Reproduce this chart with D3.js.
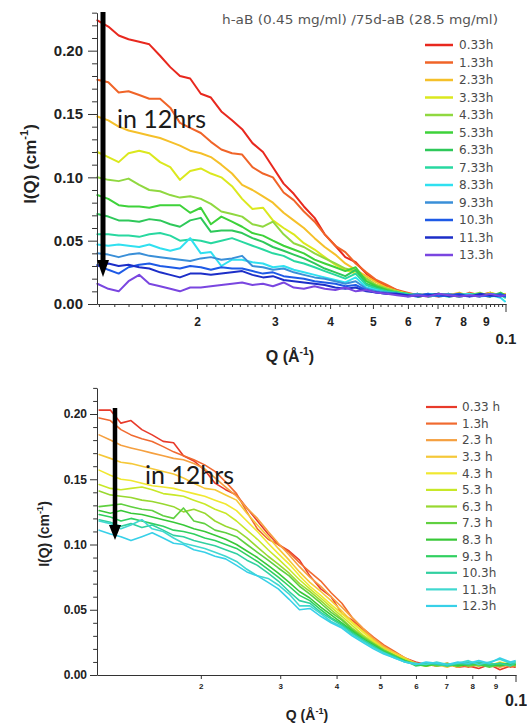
<!DOCTYPE html>
<html><head><meta charset="utf-8">
<script src="https://cdn.jsdelivr.net/npm/d3@7"></script>
<style>body{margin:0;background:#fff} svg{display:block}</style>
</head><body><svg id="c" width="527" height="723"></svg>
<script>
// ---------- DATA ----------
const Q = [0.0119,0.0126,0.0133,0.0140,0.0148,0.0156,0.0165,0.0174,0.0183,0.0193,0.0204,0.0215,0.0227,0.0240,0.0253,0.0267,0.0282,0.0297,0.0314,0.0331,0.0349,0.0369,0.0389,0.0411,0.0433,0.0457,0.0483,0.0509,0.0538,0.0567,0.0599,0.0632,0.0667,0.0704,0.0743,0.0784,0.0827,0.0873,0.0921,0.0972,0.0995];

const topTitle = "h-aB (0.45 mg/ml) /75d-aB (28.5 mg/ml)";
const topLabels = ["0.33h","1.33h","2.33h","3.33h","4.33h","5.33h","6.33h","7.33h","8.33h","9.33h","10.3h","11.3h","13.3h"];
const topColors = ["#e8281e","#f06428","#f5c02a","#dbe81e","#90d840","#3ed23a","#2ec85a","#28d8a0","#30e0f0","#3a8fd8","#1e5ae6","#1c2ec8","#7a46e0"];

const top033 = [0.224,0.219,0.212,0.209,0.207,0.205,0.196,0.187,0.180,0.178,0.166,0.163,0.152,0.145,0.138,0.127,0.120,0.108,0.095,0.087,0.077,0.068,0.055,0.046,0.037,0.033,0.024,0.018,0.014,0.011,0.008,0.006,0.007,0.006,0.008,0.006,0.008,0.007,0.009,0.006,0.007];
const top133 = [0.177,0.175,0.167,0.168,0.165,0.162,0.162,0.155,0.143,0.139,0.135,0.128,0.122,0.119,0.118,0.108,0.103,0.100,0.088,0.082,0.073,0.065,0.055,0.046,0.041,0.032,0.025,0.019,0.015,0.011,0.009,0.007,0.006,0.008,0.007,0.006,0.009,0.007,0.006,0.008,0.007];
const top233 = [0.148,0.145,0.140,0.137,0.135,0.133,0.131,0.128,0.125,0.121,0.119,0.116,0.110,0.103,0.094,0.090,0.085,0.080,0.072,0.066,0.060,0.052,0.045,0.039,0.032,0.027,0.022,0.017,0.013,0.010,0.008,0.007,0.008,0.006,0.007,0.009,0.006,0.008,0.007,0.006,0.008];
const top333 = [0.120,0.116,0.112,0.119,0.121,0.119,0.112,0.108,0.098,0.105,0.107,0.103,0.100,0.093,0.083,0.075,0.076,0.066,0.060,0.055,0.048,0.043,0.037,0.031,0.027,0.024,0.020,0.015,0.012,0.010,0.008,0.006,0.007,0.008,0.006,0.007,0.008,0.006,0.009,0.007,0.006];
const top433 = [0.100,0.098,0.097,0.099,0.094,0.090,0.089,0.086,0.084,0.085,0.083,0.079,0.073,0.071,0.069,0.063,0.061,0.065,0.055,0.048,0.045,0.040,0.036,0.032,0.028,0.026,0.020,0.015,0.012,0.010,0.007,0.008,0.006,0.007,0.008,0.006,0.007,0.009,0.006,0.008,0.007];
const top533 = [0.086,0.083,0.078,0.077,0.077,0.076,0.078,0.078,0.078,0.072,0.076,0.063,0.069,0.065,0.061,0.056,0.054,0.050,0.046,0.043,0.040,0.035,0.032,0.029,0.026,0.029,0.018,0.014,0.011,0.009,0.008,0.006,0.007,0.008,0.007,0.006,0.008,0.007,0.006,0.009,0.007];
const top633 = [0.071,0.069,0.066,0.066,0.065,0.067,0.066,0.063,0.061,0.066,0.068,0.057,0.058,0.058,0.056,0.052,0.049,0.045,0.042,0.039,0.036,0.032,0.028,0.025,0.022,0.027,0.016,0.013,0.010,0.009,0.007,0.008,0.006,0.007,0.006,0.008,0.007,0.006,0.008,0.007,0.006];
const top733 = [0.055,0.055,0.054,0.054,0.053,0.055,0.056,0.054,0.050,0.051,0.050,0.048,0.050,0.052,0.049,0.046,0.043,0.040,0.038,0.034,0.032,0.029,0.026,0.023,0.020,0.024,0.015,0.012,0.010,0.009,0.008,0.006,0.007,0.008,0.007,0.006,0.007,0.008,0.006,0.007,0.005];
const top833 = [0.047,0.046,0.047,0.046,0.045,0.047,0.044,0.042,0.044,0.052,0.040,0.041,0.030,0.035,0.035,0.033,0.032,0.029,0.030,0.027,0.025,0.023,0.021,0.019,0.017,0.021,0.013,0.011,0.009,0.008,0.007,0.006,0.008,0.007,0.006,0.007,0.008,0.006,0.007,0.005,0.002];
const top933 = [0.040,0.039,0.037,0.039,0.040,0.038,0.037,0.036,0.035,0.034,0.036,0.037,0.035,0.036,0.038,0.030,0.029,0.027,0.028,0.025,0.023,0.021,0.020,0.018,0.016,0.018,0.012,0.010,0.009,0.008,0.007,0.008,0.006,0.007,0.008,0.006,0.007,0.006,0.008,0.007,0.006];
const top103 = [0.031,0.027,0.024,0.029,0.031,0.032,0.030,0.029,0.028,0.030,0.029,0.027,0.029,0.028,0.028,0.026,0.024,0.025,0.022,0.021,0.020,0.018,0.017,0.016,0.014,0.015,0.011,0.009,0.008,0.008,0.006,0.007,0.008,0.006,0.007,0.008,0.006,0.007,0.006,0.008,0.006];
const top113 = [0.030,0.032,0.030,0.031,0.029,0.028,0.025,0.023,0.021,0.024,0.024,0.023,0.024,0.025,0.026,0.023,0.021,0.022,0.019,0.018,0.017,0.016,0.015,0.013,0.012,0.013,0.010,0.009,0.008,0.008,0.007,0.006,0.007,0.008,0.006,0.007,0.006,0.008,0.007,0.006,0.007];
const top133b = [0.016,0.012,0.010,0.018,0.023,0.016,0.014,0.012,0.010,0.013,0.013,0.014,0.015,0.016,0.017,0.015,0.016,0.014,0.017,0.013,0.012,0.014,0.012,0.011,0.013,0.010,0.011,0.009,0.008,0.007,0.006,0.007,0.006,0.008,0.007,0.006,0.007,0.006,0.008,0.006,0.007];

const botLabels = ["0.33 h","1.3h","2.3 h","3.3 h","4.3 h","5.3 h","6.3 h","7.3 h","8.3 h","9.3 h","10.3h","11.3h","12.3h"];
const botColors = ["#e83a2a","#f06a30","#f5a040","#f5c838","#f0e830","#c8e828","#98d830","#60d040","#38c838","#30d060","#30d0a0","#40d8d0","#38d0e8"];

const bot033 = [0.203,0.203,0.193,0.195,0.188,0.184,0.179,0.178,0.168,0.164,0.157,0.147,0.142,0.138,0.128,0.118,0.108,0.100,0.095,0.088,0.076,0.066,0.060,0.047,0.042,0.035,0.027,0.021,0.017,0.013,0.010,0.008,0.007,0.009,0.006,0.007,0.005,0.008,0.004,0.007,0.006];
const bot13 = [0.197,0.195,0.188,0.184,0.181,0.179,0.175,0.171,0.168,0.165,0.161,0.156,0.148,0.139,0.125,0.112,0.104,0.100,0.094,0.086,0.079,0.072,0.063,0.055,0.044,0.036,0.029,0.023,0.018,0.013,0.009,0.008,0.009,0.007,0.008,0.006,0.008,0.007,0.009,0.006,0.007];
const bot23 = [0.184,0.180,0.176,0.174,0.172,0.170,0.168,0.166,0.165,0.162,0.158,0.151,0.144,0.137,0.128,0.120,0.110,0.101,0.092,0.083,0.075,0.068,0.060,0.052,0.044,0.036,0.028,0.022,0.017,0.013,0.008,0.009,0.007,0.008,0.006,0.009,0.007,0.008,0.006,0.008,0.007];
const bot33 = [0.169,0.166,0.163,0.162,0.160,0.158,0.156,0.154,0.151,0.147,0.143,0.142,0.138,0.134,0.124,0.115,0.106,0.097,0.088,0.079,0.071,0.064,0.057,0.049,0.041,0.034,0.027,0.021,0.017,0.013,0.009,0.007,0.008,0.006,0.009,0.007,0.008,0.009,0.007,0.010,0.008];
const bot43 = [0.157,0.153,0.150,0.149,0.147,0.145,0.144,0.143,0.141,0.139,0.137,0.134,0.131,0.126,0.118,0.110,0.101,0.093,0.085,0.076,0.068,0.061,0.054,0.047,0.040,0.033,0.026,0.020,0.016,0.012,0.008,0.009,0.007,0.008,0.007,0.008,0.009,0.007,0.010,0.008,0.009];
const bot53 = [0.146,0.143,0.142,0.143,0.144,0.142,0.139,0.138,0.137,0.134,0.131,0.127,0.124,0.118,0.111,0.104,0.096,0.089,0.081,0.073,0.066,0.059,0.052,0.045,0.038,0.031,0.025,0.020,0.015,0.012,0.008,0.007,0.009,0.008,0.007,0.009,0.008,0.007,0.009,0.008,0.009];
const bot63 = [0.141,0.138,0.137,0.136,0.134,0.133,0.131,0.129,0.125,0.127,0.124,0.118,0.114,0.111,0.105,0.098,0.091,0.085,0.078,0.070,0.064,0.057,0.050,0.043,0.036,0.030,0.024,0.019,0.015,0.011,0.009,0.007,0.008,0.009,0.007,0.008,0.007,0.009,0.008,0.007,0.008];
const bot73 = [0.129,0.130,0.131,0.129,0.127,0.126,0.122,0.120,0.128,0.118,0.116,0.111,0.109,0.106,0.100,0.094,0.088,0.082,0.076,0.068,0.062,0.055,0.048,0.042,0.035,0.029,0.024,0.019,0.015,0.011,0.008,0.009,0.007,0.008,0.009,0.007,0.008,0.006,0.008,0.009,0.007];
const bot83 = [0.126,0.124,0.126,0.124,0.123,0.121,0.119,0.117,0.115,0.112,0.110,0.107,0.104,0.100,0.095,0.090,0.084,0.078,0.071,0.064,0.059,0.052,0.046,0.040,0.034,0.028,0.023,0.018,0.014,0.011,0.008,0.007,0.009,0.008,0.007,0.008,0.009,0.008,0.007,0.009,0.008];
const bot93 = [0.123,0.121,0.118,0.120,0.118,0.116,0.114,0.111,0.110,0.108,0.105,0.103,0.100,0.097,0.092,0.087,0.081,0.075,0.068,0.061,0.057,0.050,0.044,0.039,0.033,0.027,0.022,0.018,0.014,0.011,0.007,0.008,0.009,0.007,0.008,0.010,0.008,0.007,0.009,0.008,0.010];
const bot103 = [0.119,0.117,0.114,0.116,0.113,0.115,0.111,0.107,0.106,0.103,0.101,0.099,0.096,0.093,0.088,0.084,0.078,0.072,0.064,0.057,0.055,0.048,0.043,0.038,0.032,0.027,0.022,0.017,0.014,0.010,0.008,0.009,0.008,0.007,0.009,0.008,0.010,0.008,0.009,0.007,0.009];
const bot113 = [0.118,0.116,0.112,0.115,0.119,0.112,0.110,0.105,0.101,0.099,0.097,0.094,0.091,0.087,0.081,0.076,0.074,0.069,0.062,0.053,0.053,0.047,0.041,0.037,0.031,0.026,0.021,0.017,0.013,0.010,0.009,0.008,0.010,0.008,0.009,0.011,0.008,0.010,0.012,0.009,0.010];
const bot123 = [0.111,0.108,0.106,0.103,0.106,0.109,0.105,0.101,0.100,0.096,0.094,0.091,0.089,0.084,0.079,0.076,0.071,0.066,0.058,0.050,0.051,0.045,0.040,0.036,0.030,0.025,0.020,0.016,0.013,0.010,0.008,0.010,0.009,0.008,0.010,0.009,0.011,0.009,0.013,0.010,0.011];

const yMajorTicks = [0, 0.05, 0.10, 0.15, 0.20];
const xMajorTicks = [0.02,0.03,0.04,0.05,0.06,0.07,0.08,0.09];
const arrowText = "in 12hrs";

const topSeries = [top033,top133,top233,top333,top433,top533,top633,top733,top833,top933,top103,top113,top133b];
const botSeries = [bot033,bot13,bot23,bot33,bot43,bot53,bot63,bot73,bot83,bot93,bot103,bot113,bot123];

// ---------- DRAW ----------
const svg = d3.select('#c');
const AX = '#333';
const BOLD = "'Liberation Sans', Arial, sans-serif";

function sup(textSel, parts, supSize){
  textSel.append('tspan').text(parts[0]);
  textSel.append('tspan').attr('dy', -supSize*0.7).attr('font-size', supSize).text(parts[1]);
  textSel.append('tspan').attr('dy', supSize*0.7).text(parts[2]);
}

function panel(o){
  const x = d3.scaleLog().domain(o.qDomain).range(o.xRange);
  const y = d3.scaleLinear().domain(o.yDomain).range(o.yRange);
  const g = svg.append('g');
  const line = d3.line().x((d,i)=>x(Q[i])).y(d=>y(d));
  o.series.forEach((s,k)=>{
    g.append('path').attr('d', line(s)).attr('fill','none')
      .attr('stroke', o.colors[k]).attr('stroke-width', o.lw)
      .attr('stroke-linejoin','round').attr('stroke-linecap','round');
  });
  // y axis
  const yMinor = d3.range(1, Math.round(o.yDomain[1]*100)+1).map(v=>v/100).filter(v=>Math.round(v*100)%5!==0);
  const ga = svg.append('g').attr('transform', `translate(${o.xRange[0]},0)`)
    .call(d3.axisLeft(y).tickValues(yMajorTicks).tickFormat(d3.format('.2f'))
      .tickSize(o.yTick).tickPadding(o.yPad).tickSizeOuter(0));
  ga.attr('font-family', BOLD).attr('font-size', o.yFont).attr('font-weight','bold');
  ga.selectAll('text').attr('fill','#222');
  ga.selectAll('line,path').attr('stroke', AX);
  const gm = svg.append('g').attr('transform', `translate(${o.xRange[0]},0)`)
    .call(d3.axisLeft(y).tickValues(yMinor).tickFormat('').tickSize(o.yTick*0.55).tickSizeOuter(0));
  gm.select('.domain').remove();
  gm.selectAll('line').attr('stroke', AX);
  // x axis
  const y0 = o.yRange[0];
  const gx = svg.append('g').attr('transform', `translate(0,${y0})`)
    .call(d3.axisBottom(x).tickValues(xMajorTicks).tickFormat(d=>Math.round(d*100))
      .tickSize(o.xTick).tickPadding(o.xPad).tickSizeOuter(0));
  gx.attr('font-family', BOLD).attr('font-size', o.xFont).attr('font-weight','bold');
  gx.selectAll('text').attr('fill','#222');
  gx.selectAll('line,path').attr('stroke', AX);
  if (o.xMinor) {
    const xm = d3.range(12, 40).map(v=>v/1000).concat(d3.range(21, 50).map(v=>v*2/1000))
      .filter(v=>Math.abs(v*100-Math.round(v*100))>1e-6);
    const gxm = svg.append('g').attr('transform', `translate(0,${y0})`)
      .call(d3.axisBottom(x).tickValues(xm).tickFormat('').tickSize(3).tickSizeOuter(0));
    gxm.select('.domain').remove();
    gxm.selectAll('line').attr('stroke', AX);
  }
  // 0.1 end tick + label
  svg.append('line').attr('x1', x(0.1)).attr('x2', x(0.1)).attr('y1', y0).attr('y2', y0+o.endTick)
    .attr('stroke', AX);
  svg.append('text').attr('x', x(0.1)).attr('y', o.endLabelY).attr('text-anchor','middle')
    .attr('font-family', BOLD).attr('font-weight','bold').attr('font-size', o.endFont)
    .attr('fill','#222').text('0.1');
  // axis titles
  const xt = svg.append('text').attr('x', o.xTitle[0]).attr('y', o.xTitle[1]).attr('text-anchor','middle')
    .attr('font-family', BOLD).attr('font-weight','bold').attr('font-size', o.xTitleFont).attr('fill','#222');
  sup(xt, ['Q (Å','-1',')'], o.xTitleFont*0.65);
  const yt = svg.append('text').attr('transform', `translate(${o.yTitle[0]},${o.yTitle[1]}) rotate(-90)`)
    .attr('text-anchor','middle').attr('font-family', BOLD).attr('font-weight','bold')
    .attr('font-size', o.yTitleFont).attr('fill','#222');
  sup(yt, ['I(Q) (cm','-1',')'], o.yTitleFont*0.65);
  // legend
  const lg = svg.append('g');
  o.labels.forEach((lab,k)=>{
    const yy = o.leg.y0 + k*o.leg.dy;
    lg.append('line').attr('x1', o.leg.x1).attr('x2', o.leg.x2).attr('y1', yy).attr('y2', yy)
      .attr('stroke', o.colors[k]).attr('stroke-width', o.leg.lw);
    lg.append('text').attr('x', o.leg.tx).attr('y', yy).attr('dy','0.36em')
      .attr('font-family', "'DejaVu Sans', Verdana, sans-serif").attr('font-size', o.leg.font)
      .attr('fill','#4a4a4a').text(lab);
  });
  // arrow
  const a = o.arrow;
  svg.append('line').attr('x1', a.x).attr('x2', a.x).attr('y1', a.y1).attr('y2', a.y2)
    .attr('stroke','#000').attr('stroke-width', a.w);
  svg.append('path').attr('d', `M${a.x-a.hw},${a.y2-1}L${a.x+a.hw},${a.y2-1}L${a.x},${a.tip}Z`).attr('fill','#000');
  svg.append('text').attr('x', a.tx).attr('y', a.ty).attr('font-family',"Lato, 'Open Sans', sans-serif")
    .attr('font-size', 25).attr('fill','#1a1a1a').text(arrowText);
}

panel({
  series: topSeries, colors: topColors, labels: topLabels, lw: 2,
  qDomain: [0.01188, 0.1], xRange: [97, 506],
  yDomain: [0, 0.23], yRange: [304, 304 - 0.23*1266.7],
  yTick: 9, yPad: 5, yFont: 15,
  xTick: 5, xPad: 8, xFont: 12, xMinor: true,
  endTick: 8, endLabelY: 344, endFont: 15,
  xTitle: [290, 362], xTitleFont: 16,
  yTitle: [36, 164], yTitleFont: 17,
  leg: {x1: 425, x2: 453, tx: 459, y0: 45, dy: 17.5, lw: 2.5, font: 12},
  arrow: {x: 103, y1: 12, y2: 261, tip: 277, w: 5, hw: 6, tx: 117, ty: 128}
});
panel({
  series: botSeries, colors: botColors, labels: botLabels, lw: 1.6,
  qDomain: [0.01177, 0.1], xRange: [97, 516],
  yDomain: [0, 0.22], yRange: [675, 675 - 0.22*1305],
  yTick: 7, yPad: 3, yFont: 12,
  xTick: 4, xPad: 4, xFont: 8, xMinor: false,
  endTick: 7, endLabelY: 706, endFont: 16,
  xTitle: [307, 720], xTitleFont: 14,
  yTitle: [49, 534], yTitleFont: 14,
  leg: {x1: 426, x2: 457, tx: 462, y0: 407, dy: 16.58, lw: 2.2, font: 12},
  arrow: {x: 115, y1: 408, y2: 526, tip: 540, w: 4.5, hw: 6, tx: 145, ty: 484}
});

// top title
svg.append('text').attr('x', 222).attr('y', 24).attr('font-family', "'DejaVu Sans', Verdana, sans-serif")
  .attr('font-size', 11.5).attr('fill','#555').attr('textLength', 276).attr('lengthAdjust','spacingAndGlyphs')
  .text(topTitle);
</script></body></html>
